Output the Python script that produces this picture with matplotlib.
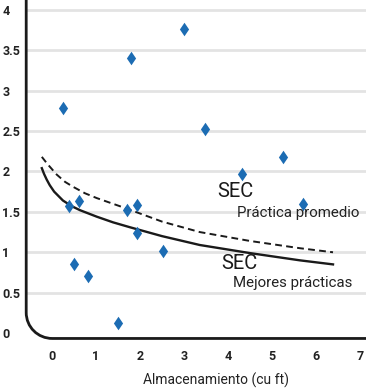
import matplotlib.pyplot as plt
from matplotlib.path import Path
from matplotlib.patches import PathPatch

# scatter points (storage cu ft, SEC)
pts_x = [0.25, 1.8, 3.0, 3.48, 4.32, 5.25, 5.7, 0.39, 0.61, 0.5, 0.82, 1.5, 1.7, 1.93, 1.93, 2.52]
pts_y = [2.78, 3.4, 3.76, 2.52, 1.97, 2.18, 1.6, 1.57, 1.63, 0.85, 0.71, 0.13, 1.52, 1.58, 1.24, 1.02]

# curves
best_x = [-0.23, -0.18, -0.12, -0.05, 0.05, 0.25, 0.45, 0.64, 1.02, 1.39, 1.77, 2.5, 3.36, 4.5, 5.64, 6.39]
best_y = [2.04, 1.97, 1.9, 1.83, 1.75, 1.64, 1.57, 1.52, 1.44, 1.37, 1.31, 1.2, 1.09, 0.99, 0.90, 0.85]
avg_x = [-0.23, -0.1, 0.11, 0.3, 0.48, 0.75, 1.02, 1.7, 2.5, 3.36, 4.5, 5.64, 6.39]
avg_y = [2.18, 2.09, 1.96, 1.87, 1.81, 1.73, 1.67, 1.54, 1.38, 1.25, 1.14, 1.05, 1.0]

xticks = [0, 1, 2, 3, 4, 5, 6, 7]
yticks = [0, 0.5, 1, 1.5, 2, 2.5, 3, 3.5, 4]
ytick_labels = ['0', '0.5', '1', '1.5', '2', '2.5', '3', '3.5', '4']

plt.rcParams['font.family'] = ['Roboto', 'DejaVu Sans']

fig = plt.figure(figsize=(3.66, 3.88), dpi=100)
ax = fig.add_axes([0.071, 0.126, 0.929, 0.874])

x0, x1 = -0.59, 7.14
y0, y1 = -0.074, 4.12
ax.set_xlim(x0, x1)
ax.set_ylim(y0, y1)

for v in yticks[1:]:
    ax.axhline(v, color='#e3e3e3', lw=2, zorder=0)

ax.plot(best_x, best_y, color='#1a1a1a', lw=1.7, zorder=2)
ax.plot(avg_x, avg_y, color='#1a1a1a', lw=1.4, ls=(0, (3.5, 2.2)), zorder=2)

diamond = [(-0.68, 0), (0, 1), (0.68, 0), (0, -1), (-0.68, 0)]
ax.scatter(pts_x, pts_y, marker=diamond, s=95, color='#1c6cb3', zorder=3, linewidths=0)

ax.text(3.75, 1.75, 'SEC', fontsize=14.5, va='center', ha='left', color='#1a1a1a')
ax.text(4.2, 1.49, 'Práctica promedio', fontsize=10.8, va='center', ha='left', color='#222222')
ax.text(3.84, 0.855, 'SEC', fontsize=14.5, va='center', ha='left', color='#1a1a1a')
ax.text(4.11, 0.62, 'Mejores prácticas', fontsize=10.8, va='center', ha='left', color='#222222')

# rounded corner axis line
rx, ry = 0.6, 0.33
k = 0.45
verts = [(x0 + 0.005, y1), (x0 + 0.005, y0 + ry),
         (x0 + 0.005, y0 + ry * k), (x0 + rx * k, y0 + 0.008), (x0 + rx, y0 + 0.008),
         (x1, y0 + 0.008)]
codes = [Path.MOVETO, Path.LINETO, Path.CURVE4, Path.CURVE4, Path.CURVE4, Path.LINETO]
ax.add_patch(PathPatch(Path(verts, codes), fill=False, lw=2, edgecolor='#1a1a1a',
                       clip_on=False, zorder=4))

for s in ax.spines.values():
    s.set_visible(False)

ax.set_xticks(xticks)
ax.set_yticks(yticks)
ax.set_yticklabels(ytick_labels, ha='left')
ax.tick_params(axis='y', length=0, pad=17, labelsize=9)
ax.tick_params(axis='x', length=0, pad=8, labelsize=9)
for lab in ax.get_xticklabels() + ax.get_yticklabels():
    lab.set_fontweight('bold')
    lab.set_color('#222222')

ax.set_xlabel('Almacenamiento (cu ft)', fontsize=10, color='#222222', va='center')
ax.xaxis.set_label_coords(0.559, -0.121)

fig.savefig('out.png', dpi=100)
